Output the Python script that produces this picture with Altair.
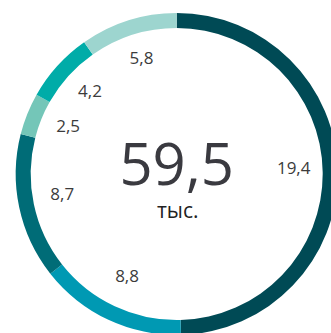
import altair as alt
import pandas as pd

segments = ["s1", "s2", "s3", "s4", "s5", "s6"]
arc_values = [29.5, 8.8, 8.7, 2.5, 4.2, 5.8]
value_labels = ["19,4", "8,8", "8,7", "2,5", "4,2", "5,8"]
colors = ["#004a55", "#0099b3", "#006c77", "#74c6b8", "#00aca8", "#9dd5cf"]
total_label = ["59,5"]
unit_label = ["тыс."]

df = pd.DataFrame({
    "seg": segments,
    "value": arc_values,
    "label": value_labels,
    "order": list(range(len(segments))),
})

CX, CY = 176.7, 174

base = alt.Chart(df).encode(
    theta=alt.Theta("value:Q", stack=True),
    order=alt.Order("order:Q"),
)

ring = base.mark_arc(radius=161, radius2=146).encode(
    color=alt.Color("seg:N", scale=alt.Scale(domain=segments, range=colors), legend=None),
    x=alt.value(CX),
    y=alt.value(CY),
)

labels = base.mark_text(radius=117, dy=-3, font="Open Sans", fontSize=17, color="#3c3c3c").encode(
    text="label:N",
    x=alt.value(CX),
    y=alt.value(CY),
)

total = alt.Chart(pd.DataFrame({"t": total_label})).mark_text(
    font="Open Sans", fontSize=58, color="#3a3a40", baseline="alphabetic", align="center"
).encode(text="t:N", x=alt.value(CX), y=alt.value(185))

unit = alt.Chart(pd.DataFrame({"t": unit_label})).mark_text(
    font="Open Sans", fontSize=21, color="#222222", baseline="alphabetic", align="center"
).encode(text="t:N", x=alt.value(CX + 1), y=alt.value(218))

chart = alt.layer(ring, labels, total, unit).properties(
    width=331, height=333,
    autosize=alt.AutoSizeParams(type="none"),
    padding=0,
).configure_view(stroke=None)

chart.save("out.html", embed_options={"renderer": "svg", "actions": False})
